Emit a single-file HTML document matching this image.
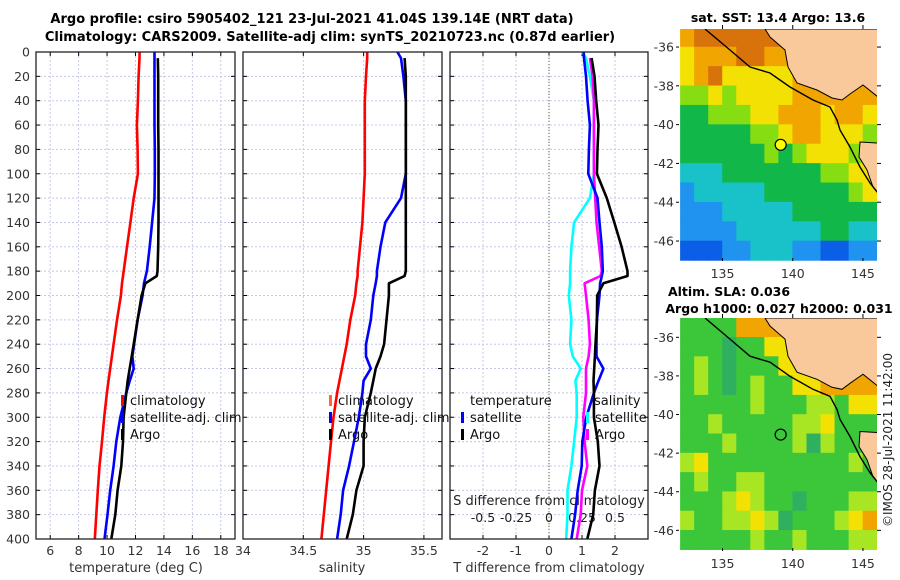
<!DOCTYPE html>
<html><head><meta charset="utf-8"><style>
body{margin:0;background:#fff;width:900px;height:580px;overflow:hidden}
svg{display:block;font-family:"DejaVu Sans","Liberation Sans",sans-serif}
</style></head><body>
<svg id="fig" width="900" height="580" viewBox="0 0 900 580">
<text x="312" y="23" font-size="13" font-weight="bold" text-anchor="middle">Argo profile: csiro 5905402_121 23-Jul-2021 41.04S 139.14E (NRT data)</text>
<text x="330" y="41" font-size="13" font-weight="bold" text-anchor="middle">Climatology: CARS2009. Satellite-adj clim: synTS_20210723.nc (0.87d earlier)</text>
<text x="778" y="22" font-size="12.5" font-weight="bold" text-anchor="middle">sat. SST: 13.4 Argo: 13.6</text>
<text x="729" y="296" font-size="12.5" font-weight="bold" text-anchor="middle">Altim. SLA: 0.036</text>
<text x="779" y="313" font-size="12.5" font-weight="bold" text-anchor="middle">Argo h1000: 0.027 h2000: 0.031</text>
<text transform="translate(892,440) rotate(-90)" font-size="12" text-anchor="middle" fill="#222">©IMOS 28-Jul-2021 11:42:00</text>
<g id="g"></g>
</svg>
<script>
const depths=[0,5,20,40,60,80,100,120,140,160,180,184,190,200,220,240,250,260,270,280,300,320,340,360,380,400];
const climT=[12.29,12.28,12.22,12.17,12.1,12.15,12.17,11.87,11.64,11.4,11.17,11.12,11.05,10.97,10.7,10.46,10.34,10.22,10.1,9.99,9.8,9.64,9.47,9.35,9.24,9.14];
const satT=[13.34,13.34,13.34,13.34,13.34,13.36,13.36,13.34,13.17,13.0,12.8,12.72,12.6,12.5,12.15,11.9,11.78,11.87,11.6,11.35,10.93,10.65,10.46,10.22,10.03,9.82];
const argoT=[null,13.57,13.6,13.6,13.6,13.62,13.62,13.62,13.62,13.6,13.55,13.5,12.7,12.43,12.15,11.87,11.73,11.59,11.45,11.35,11.16,11.12,11.0,10.74,10.58,10.3];
const climS=[35.03,35.03,35.02,35.01,35.01,35.01,35.01,35.0,34.99,34.97,34.95,34.95,34.94,34.93,34.89,34.86,34.84,34.82,34.8,34.78,34.75,34.73,34.71,34.69,34.67,34.65];
const satS=[35.28,35.31,35.33,35.35,35.35,35.35,35.35,35.31,35.18,35.14,35.11,35.11,35.1,35.08,35.06,35.02,35.02,35.06,35.0,34.99,34.96,34.92,34.88,34.83,34.81,34.78];
const argoS=[null,35.34,35.35,35.35,35.35,35.35,35.35,35.35,35.35,35.35,35.35,35.34,35.21,35.21,35.19,35.17,35.14,35.1,35.08,35.06,35.01,35.0,35.0,34.94,34.91,34.86];
const depthTicks=[0,20,40,60,80,100,120,140,160,180,200,220,240,260,280,300,320,340,360,380,400];
const tempTicks=[6,8,10,12,14,16,18];
const salTicks=[34,34.5,35,35.5];
const salTickLabels=["34","34.5","35","35.5"];
const dTTicks=[-2,-1,0,1,2];
const dSTicks=[-0.5,-0.25,0,0.25,0.5];
const dSTickLabels=["-0.5","-0.25","0","0.25","0.5"];
const floatLon=139.14, floatLat=-41.04;
const sstGrid=[
[6,7,7,7,7,7,7,7,6,6,6,6,6,6],
[5,6,6,6,7,7,6,6,6,6,6,6,6,6],
[5,6,7,5,5,5,5,5,6,6,6,6,6,6],
[4,4,5,4,5,5,5,5,6,6,6,6,6,6],
[3,3,4,4,4,5,5,6,6,6,5,6,6,5],
[3,3,3,3,3,4,4,5,6,6,5,5,5,4],
[3,3,3,3,3,3,4,3,4,5,5,5,4,4],
[2,2,2,3,3,3,3,3,3,3,4,4,5,5],
[1,2,2,2,2,2,3,3,3,3,3,3,4,5],
[1,1,1,2,2,2,2,2,3,3,3,3,3,3],
[1,1,1,1,2,2,2,2,2,2,3,3,2,2],
[0,0,0,1,1,2,2,2,1,1,0,0,1,1]];
const slaGrid=[
[3,3,3,3,6,6,6,6,6,6,6,6,6,6],
[3,3,3,8,3,3,5,5,6,6,6,6,6,6],
[3,4,3,8,3,3,3,5,5,6,6,6,6,6],
[3,4,3,8,3,4,3,3,5,5,6,6,6,6],
[3,3,3,3,3,4,3,3,3,4,4,3,5,5],
[3,3,4,3,3,3,3,3,4,4,5,3,3,3],
[3,3,3,4,3,3,3,3,4,8,4,3,3,3],
[4,5,3,3,3,3,3,3,3,3,3,3,4,3],
[3,4,3,3,4,4,3,3,3,3,3,3,3,3],
[3,3,3,4,5,4,3,3,8,3,3,3,4,4],
[4,3,3,4,4,5,4,8,3,3,3,4,5,6],
[3,3,3,3,3,4,3,3,4,3,3,3,4,4]];
const lonTicks=[135,140,145];
const latTicks=[-36,-38,-40,-42,-44,-46];

const NS="http://www.w3.org/2000/svg";
const G=document.getElementById('g');
function mk(tag,at,parent){const e=document.createElementNS(NS,tag);for(const k in at)e.setAttribute(k,at[k]);(parent||G).appendChild(e);return e;}
const Y0=52,Y1=539;
const yD=d=>Y0+(d/400)*(Y1-Y0);
const panels=[{x0:36,x1:235,lo:5,hi:19},{x0:243,x1:442,lo:34,hi:35.65},{x0:450,x1:648,lo:-3,hi:3}];
function sx(p,v){return p.x0+(v-p.lo)/(p.hi-p.lo)*(p.x1-p.x0);}
const pal=["#0b5fe6","#1f93ef","#18c2c8","#12b74a","#86de12","#f2e102","#f0a500","#d8720a","#2ba86a"];
const palSla=["#0b5fe6","#1f93ef","#18c2c8","#3cc63a","#a8e624","#f2e102","#f0a500","#d8720a","#2fb060"];

panels.forEach((p,i)=>{
  const gridX=i==0?tempTicks:(i==1?salTicks:dTTicks);
  depthTicks.forEach(d=>{const l=mk('line',{x1:p.x0,x2:p.x1,y1:yD(d),y2:yD(d),stroke:"#c4c8e8","stroke-width":1,"stroke-dasharray":"2,2"});
    
    });
  gridX.forEach(v=>{const l=mk('line',{x1:sx(p,v),x2:sx(p,v),y1:Y0,y2:Y1,stroke:"#c4c8e8","stroke-width":1,"stroke-dasharray":"2,2"});
    
    });
  depthTicks.forEach(d=>{mk('line',{x1:p.x0,x2:p.x0+4,y1:yD(d),y2:yD(d),stroke:"#000"});mk('line',{x1:p.x1-4,x2:p.x1,y1:yD(d),y2:yD(d),stroke:"#000"});});
  gridX.forEach(v=>{mk('line',{x1:sx(p,v),x2:sx(p,v),y1:Y1-4,y2:Y1,stroke:"#000"});mk('line',{x1:sx(p,v),x2:sx(p,v),y1:Y0,y2:Y0+4,stroke:"#000"});});
});
depthTicks.forEach(d=>{const t=mk('text',{x:30,y:yD(d)+4.5,"font-size":12.5,"text-anchor":"end",fill:"#333"});t.textContent=d;
  
  });
tempTicks.forEach(v=>{const t=mk('text',{x:sx(panels[0],v),y:555,"font-size":12.5,"text-anchor":"middle",fill:"#333"});t.textContent=v;
  
  });
salTicks.forEach((v,k)=>{const t=mk('text',{x:sx(panels[1],v),y:555,"font-size":12.5,"text-anchor":"middle",fill:"#333"});t.textContent=salTickLabels[k];
  
  });
dTTicks.forEach(v=>{const t=mk('text',{x:sx(panels[2],v),y:555,"font-size":12.5,"text-anchor":"middle",fill:"#333"});t.textContent=v;
  
  });
dSTicks.forEach((v,k)=>{const t=mk('text',{x:sx(panels[2],v*4),y:522,"font-size":12.5,"text-anchor":"middle",fill:"#222"});t.textContent=dSTickLabels[k];
  
  });
[["temperature (deg C)",136,"temperature-axis-title"],["salinity",342,"salinity-axis-title"],["T difference from climatology",549,"tdiff-axis-title"]].forEach(a=>{
  const t=mk('text',{x:a[1],y:572,"font-size":13,"text-anchor":"middle",fill:"#333"});t.textContent=a[0];
  
  });
{const t=mk('text',{x:549,y:505,"font-size":13,"text-anchor":"middle",fill:"#222"});t.textContent="S difference from climatology";
  
  }
{const l=mk('line',{x1:sx(panels[2],0),x2:sx(panels[2],0),y1:Y0,y2:Y1,stroke:"#556b2f","stroke-width":1,"stroke-dasharray":"1,2"});
  
  }

function line(p,vals,col,name,f){
  let d="";vals.forEach((v,k)=>{if(v==null)return;const x=sx(p,f?f(v,k):v);d+=(d?"L":"M")+x.toFixed(1)+","+yD(depths[k]).toFixed(1);});
  const e=mk('path',{d:d,fill:"none",stroke:col,"stroke-width":2.6,"stroke-linejoin":"round"});
  
  
}
line(panels[0],climT,"#ff0000","clim-temperature-line");
line(panels[0],satT,"#0000ff","satellite-temperature-line");
line(panels[0],argoT,"#000000","argo-temperature-line");
line(panels[1],climS,"#ff0000","clim-salinity-line");
line(panels[1],satS,"#0000ff","satellite-salinity-line");
line(panels[1],argoS,"#000000","argo-salinity-line");
line(panels[2],satS,"#00ffff","satellite-salinity-diff-line",(v,k)=>(v-climS[k])*4);
line(panels[2],argoS,"#ff00ff","argo-salinity-diff-line",(v,k)=>(v-climS[k])*4);
line(panels[2],satT,"#0000ff","satellite-temperature-diff-line",(v,k)=>v-climT[k]);
line(panels[2],argoT,"#000000","argo-temperature-diff-line",(v,k)=>v-climT[k]);

panels.forEach(p=>{const r=mk('rect',{x:p.x0,y:Y0,width:p.x1-p.x0,height:Y1-Y0,fill:"none",stroke:"#222","stroke-width":1.3});
  
  });

function legend(x,y,col,label,name){
  const m=mk('rect',{x:x-2,y:y-10,width:3,height:11,fill:col});
  
  
  const t=mk('text',{x:x+7,y:y,"font-size":13,fill:"#111"});t.textContent=label;
  
  
}
legend(123,405,"#ff0000","climatology","legend-climatology");
legend(123,422,"#0000ff","satellite-adj. clim","legend-satellite-adj");
legend(123,439,"#000000","Argo","legend-argo");
legend(331,405,"#ff6633","climatology","legend-sal-climatology");
legend(331,422,"#0000ff","satellite-adj. clim","legend-sal-satellite-adj");
legend(331,439,"#000000","Argo","legend-sal-argo");
{const t=mk('text',{x:470,y:405,"font-size":13,fill:"#111"});t.textContent="temperature";
  
  }
legend(463,422,"#0000ff","satellite","legend-tdiff-satellite");
legend(463,439,"#000000","Argo","legend-tdiff-argo");
{const t=mk('text',{x:594,y:405,"font-size":13,fill:"#111"});t.textContent="salinity";
  
  }
legend(588,422,"#00ffff","satellite","legend-sdiff-satellite");
legend(588,439,"#ff00ff","Argo","legend-sdiff-argo");

const land=[[86,0],[91,8],[106,21],[109,38],[118,54],[138,61],[153,69],[163,71],[171,65],[184,56],[199,68],[199,0]];
const tas=[[199,114],[181,113],[180,128],[188,141],[194,158],[199,164]];
const shelf=[[26,0],[51,21],[71,38],[91,44],[111,58],[134,71],[151,78],[158,91],[161,101],[171,118],[181,138],[191,154],[199,164]];
function map(mx,my,mw,mh,latTop,latBot,grid,colors,fill,name,clip){
  const lonL=131.9,lonR=146.0;
  const X=lon=>mx+(lon-lonL)/(lonR-lonL)*mw, Yl=lat=>my+(latTop-lat)/(latTop-latBot)*mh;
  const cp=mk('clipPath',{id:clip});mk('rect',{x:mx,y:my,width:mw,height:mh},cp);
  const g=mk('g',{"clip-path":"url(#"+clip+")"});
  
  
  grid.forEach((row,r)=>row.forEach((v,c)=>{
    const x0=X(132+c),y0=Yl(-35-r);
    const cell=mk('rect',{x:x0-0.3,y:y0-0.3,width:X(133+c)-x0+0.6,height:Yl(-36-r)-y0+0.6,fill:colors[v]},g);
    
    
  }));
  const pts=a=>a.map(q=>(mx+q[0]*mw/198).toFixed(1)+","+(my+q[1]*mh/232).toFixed(1)).join(" ");
  const l1=mk('polygon',{points:pts(land),fill:"#f9c99b",stroke:"#000","stroke-width":1},g);
  
  
  const l2=mk('polygon',{points:pts(tas),fill:"#f9c99b",stroke:"#000","stroke-width":1},g);
  
  
  const s=mk('polyline',{points:pts(shelf),fill:"none",stroke:"#000","stroke-width":1.4},g);
  
  
  const c=mk('circle',{cx:X(floatLon),cy:Yl(floatLat),r:5.5,fill:fill,stroke:"#000","stroke-width":1.2});
  
  
  lonTicks.forEach(v=>{mk('line',{x1:X(v),x2:X(v),y1:my+mh,y2:my+mh-3,stroke:"#000"});mk('line',{x1:X(v),x2:X(v),y1:my,y2:my-4,stroke:"#000"});
    const t=mk('text',{x:X(v),y:my+mh+17,"font-size":12.5,"text-anchor":"middle",fill:"#333"});t.textContent=v;
    
    });
  latTicks.forEach(v=>{mk('line',{x1:mx,x2:mx-3,y1:Yl(v),y2:Yl(v),stroke:"#000"});mk('line',{x1:mx+mw,x2:mx+mw+4,y1:Yl(v),y2:Yl(v),stroke:"#000"});
    const t=mk('text',{x:mx-5,y:Yl(v)+4.5,"font-size":12.5,"text-anchor":"end",fill:"#333"});t.textContent=v;
    
    });
}
map(679,29,198,232,-35.07,-47.03,sstGrid,pal,"#ffff00","sst-map","clipA");
map(679,318,198,233,-35.0,-47.07,slaGrid,palSla,"none","sla-map","clipB");
</script>
</body></html>
